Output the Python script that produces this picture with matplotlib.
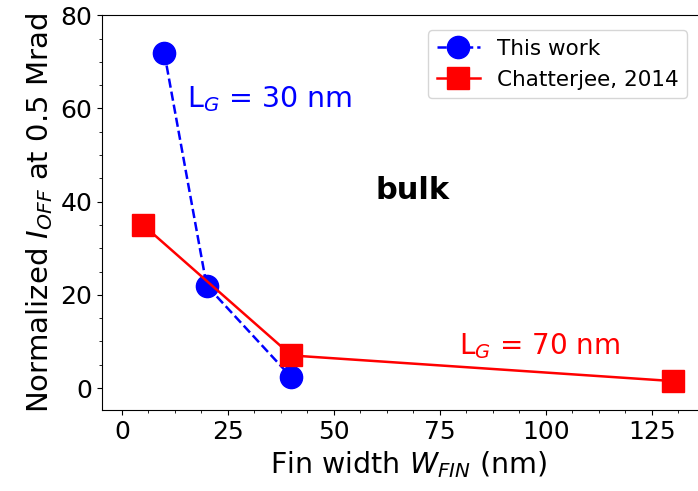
import matplotlib
matplotlib.use('Agg')
import matplotlib.pyplot as plt
from matplotlib.ticker import AutoMinorLocator

# Data
this_work_w = [10, 20, 40]
this_work_ioff = [72, 22, 2.3]
chatterjee_w = [5, 40, 130]
chatterjee_ioff = [35, 7, 1.5]

fig = plt.figure(figsize=(6.98, 4.91), dpi=100)
ax = fig.add_axes([0.146, 0.165, 0.879, 0.804])

ax.plot(this_work_w, this_work_ioff, color='blue', linestyle='--', linewidth=1.8,
        marker='o', markersize=16, label='This work')
ax.plot(chatterjee_w, chatterjee_ioff, color='red', linestyle='-', linewidth=1.8,
        marker='s', markersize=16, label='Chatterjee, 2014')

ax.text(15.3, 62, 'L$_G$ = 30 nm', color='blue', fontsize=20.5, va='center')
ax.text(68.5, 42.3, 'bulk', color='black', fontsize=22, fontweight='bold',
        ha='center', va='center')
ax.text(79.5, 9, 'L$_G$ = 70 nm', color='red', fontsize=20, va='center')

ax.set_xlim(-4.7, 140)
ax.set_ylim(-4.7, 80)
ax.set_xticks([0, 25, 50, 75, 100, 125])
ax.set_yticks([0, 20, 40, 60, 80])
ax.xaxis.set_minor_locator(AutoMinorLocator(4))
ax.yaxis.set_minor_locator(AutoMinorLocator(4))
ax.tick_params(labelsize=18)

ax.set_xlabel('Fin width $W_{FIN}$ (nm)', fontsize=20.5)
ax.set_ylabel('Normalized $I_{OFF}$ at 0.5 Mrad', fontsize=21)

ax.legend(loc='upper right', bbox_to_anchor=(1.0, 0.96),
          bbox_transform=fig.transFigure, fontsize=15.5)

fig.savefig('out.png', dpi=100)
